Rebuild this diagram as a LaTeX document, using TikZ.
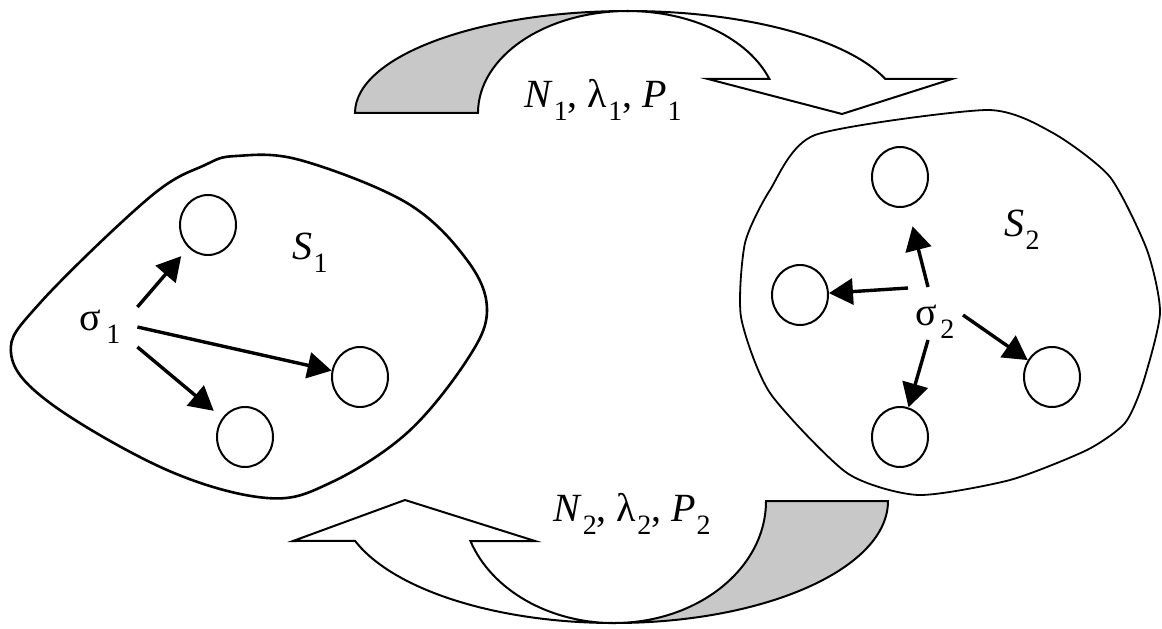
\documentclass[tikz,border=0pt]{standalone}
\usepackage{fontspec}
\setmainfont{Liberation Serif}
\usetikzlibrary{arrows.meta,shapes.geometric}
\definecolor{ribbongray}{HTML}{C8C8C8}
\newcommand{\subidx}[1]{\kern0.5pt\raisebox{-0.32em}{\fontsize{14}{14}\selectfont #1}}

\begin{document}
\begin{tikzpicture}[x=0.5pt, y=0.5pt,
  lbl/.style={inner sep=0pt, font=\fontsize{20}{24}\selectfont},
  cell/.style={draw, ellipse, line width=1pt, minimum width=28pt, minimum height=30pt, inner sep=0pt},
  push/.style={line width=1.7pt, -{Triangle[length=12pt,width=13pt]}},
  ribbon/.style={draw, line width=1pt, line join=miter}]

  \useasboundingbox (0,0) rectangle (1162,628);

  % Top exchange arrow (S1 to S2)
  % back side of the ribbon
  \filldraw[ribbon, fill=ribbongray]
    (355,515) arc[start angle=180, end angle=90, x radius=273, y radius=102]
    arc[start angle=90, end angle=180, x radius=150, y radius=102] -- cycle;
  % front side with head
  \filldraw[ribbon, fill=white]
    (628,617) arc[start angle=90, end angle=19.5, x radius=273, y radius=102]
    -- (952,549) -- (842,514) -- (708,549) -- (769.4,549)
    arc[start angle=19.5, end angle=90, x radius=150, y radius=102] -- cycle;

  % Bottom exchange arrow (S2 to S1)
  % back side of the ribbon
  \filldraw[ribbon, fill=ribbongray]
    (888,127) arc[start angle=0, end angle=-90, x radius=274, y radius=122]
    arc[start angle=-90, end angle=0, x radius=152, y radius=122] -- cycle;
  % front side with head
  \filldraw[ribbon, fill=white]
    (614,5) arc[start angle=270, end angle=199.1, x radius=274, y radius=122]
    -- (293,87) -- (405,128) -- (535,87) -- (470.4,87)
    arc[start angle=199.1, end angle=270, x radius=152, y radius=122] -- cycle;

  % Region S1
  \draw[line width=1.3pt] plot[smooth cycle, tension=0.6] coordinates {
    (236,472) (300,468) (407,425) (467,368) (487,318) (467,268) (407,195)
    (330,145) (267,130) (167,158) (50,225) (11,275) (40,325) (150,431)
    (205,463)};

  % Region S2
  \draw[line width=0.9pt] plot[smooth cycle, tension=0.4] coordinates {
    (815,493) (987,518) (1053,495) (1110,451) (1147,378)
    (1160,315) (1143,245) (1125,205) (1087,178) (1010,148) (918,133)
    (847,155) (770,235) (741,311) (745,385) (770,438)};

  % Labels
  \node[lbl] (flow12) at (603,528) {\textit{N}\subidx{1}, λ\subidx{1}, \textit{P}\subidx{1}};
  \node[lbl] (flow21) at (632,114) {\textit{N}\subidx{2}, λ\subidx{2}, \textit{P}\subidx{2}};
  \node[lbl] (s1) at (310,375) {\textit{S}\subidx{1}};
  \node[lbl] (s2) at (1022,398) {\textit{S}\subidx{2}};
  \node[lbl, minimum width=37pt] (sig1) at (100,301) {σ\kern2pt\subidx{1}};
  \node[lbl] (sig2) at (935,306) {σ\kern1pt\subidx{2}};

  % Elements of S1
  \node[cell] (c1) at (208,403) {};
  \node[cell] (c2) at (360,251) {};
  \node[cell] (c3) at (245,191) {};

  % Elements of S2
  \node[cell] (d1) at (900,451) {};
  \node[cell] (d2) at (800,333) {};
  \node[cell] (d3) at (1052,251) {};
  \node[cell] (d4) at (900,191) {};

  % Links in S1
  \draw[push, shorten >=5.5pt] ([yshift=10pt]sig1.east) -- (c1);
  \draw[push] (sig1.east) -- (c2);
  \draw[push, shorten >=5.5pt] ([yshift=-10pt]sig1.east) -- (c3);

  % Links in S2
  \draw[push, shorten >=10pt] ([shift={(-3.5pt,17.5pt)}]sig2.center) -- (d1);
  \draw[push] ([shift={(-13.5pt,17pt)}]sig2.center) -- (d2);
  \draw[push] ([shift={(14pt,3.5pt)}]sig2.center) -- (d3);
  \draw[push] ([shift={(-3.5pt,-9pt)}]sig2.center) -- (d4);

\end{tikzpicture}
\end{document}
